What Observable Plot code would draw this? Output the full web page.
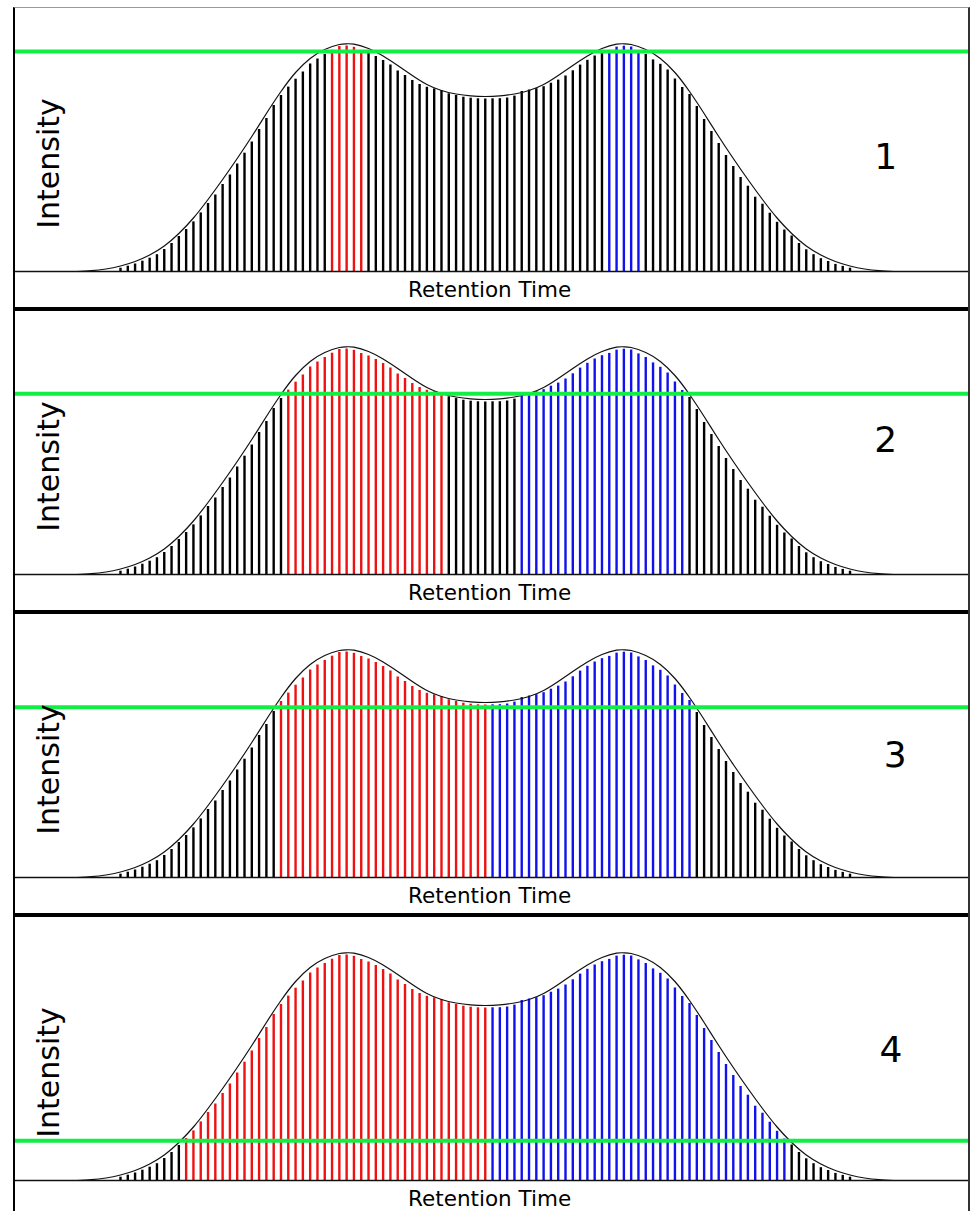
<!DOCTYPE html>
<html>
<head>
<meta charset="utf-8">
<script src="https://cdn.jsdelivr.net/npm/d3@7"></script>
<script src="https://cdn.jsdelivr.net/npm/@observablehq/plot@0.6"></script>
<style>
  html, body { margin: 0; padding: 0; background: #fff; width: 971px; height: 1211px; overflow: hidden; }
  #wrap { position: absolute; left: 13px; top: 7px; width: 953px;
          border-top: 1px solid #999; border-left: 2px solid #000; border-right: 2px solid #333; }
  .panel { height: 299px; border-bottom: 4px solid #000; }
  .panel svg { display: block; }
</style>
</head>
<body>
<div id="wrap"></div>
<script>
// ---- data ----
const xLabel = "Retention Time";
const yLabel = "Intensity";
const panelLabels = ["1", "2", "3", "4"];

// scan index of each centroid stick (retention-time order)
const scanIndex = [
  0,1,2,3,4,5,6,7,8,9,10,11,12,13,14,15,16,17,18,19,20,
  21,22,23,24,25,26,27,28,29,30,31,32,33,34,35,36,37,38,39,40,
  41,42,43,44,45,46,47,48,49,50,51,52,53,54,55,56,57,58,59,60,
  61,62,63,64,65,66,67,68,69,70,71,72,73,74,75,76,77,78,79,80,
  81,82,83,84,85,86,87,88,89,90,91,92,93,94,95,96,97,98,99,100
];
// stick intensities
const stickIntensity = [
  3.3,5.3,7.5,10.3,13.3,16.8,22,28,35,42,49.6,
  58.6,68,76.5,87,96.5,107.5,118.3,129.5,142,153,
  166,176,184.4,192.3,199.5,207.5,212.5,217,221.3,225,
  225.5,224.2,221,218.5,215,211,206.5,200.5,196,191,
  187,184.2,182.6,181,177.7,176,174.3,173.3,172.7,172.5,
  172.7,172.8,173.5,175.4,180,181.5,182.8,184.8,188.3,191.4,
  195.5,200.7,206.4,211.2,215.5,218.8,221.1,224.4,225.3,224.5,
  220.6,217,211.6,207.2,201.5,192.5,184,177,165,152,
  140,128,116,105,94,85.3,74.3,67.3,58.3,49.2,
  41.5,35.5,28,21.7,16.8,12.8,10,7.1,5.1,3.3
];
// profile (envelope) curve samples
const curveIndex = [
  -6,-4,-2,0,2,4,6,8,10,12,14,16,18,20,22,24,26,28,30,31,32,34,36,38,40,42,44,46,48,50,
  52,54,56,58,60,62,64,66,68,69,70,72,74,76,78,80,82,84,86,88,90,92,94,96,98,100,102,104,106
];
const curveIntensity = [
  0,0.8,2.5,5.5,10,16.5,25.5,38,53.5,72,92,113,135,158,180,199,213,222,227,227.7,227.3,223,215.5,206,196,187,181,177.5,175.6,175,
  175.6,177.5,181,187,196,206,215.5,223,227.3,227.7,227,222,213,199,180,158,135,113,92,72,53.5,38,25.5,16.5,10,5.5,2.5,0.8,0
];
// per-panel threshold (green line) and the stick ranges assigned to each peak
const thresholds = [220, 180.7, 170.3, 39.7];
const redRanges  = [[29, 33], [23, 44], [22, 50], [9, 50]];
const blueRanges = [[67, 71], [55, 77], [51, 78], [51, 91]];

// ---- layout / style (not data) ----
const labelPos = [
  {x: 104.9, y: 114},
  {x: 104.9, y: 134},
  {x: 106.2, y: 122},
  {x: 105.6, y: 130}
];
const GREEN = "#11ee44";

const sticks = scanIndex.map((i, k) => ({i, h: stickIntensity[k]}));
const curve = curveIndex.map((i, k) => ({i, h: curveIntensity[k]}));

const wrap = document.getElementById("wrap");

panelLabels.forEach((lab, p) => {
  const [r0, r1] = redRanges[p];
  const [b0, b1] = blueRanges[p];
  const data = sticks.map(d => ({...d,
    cls: (d.i >= r0 && d.i <= r1) ? "peak A" : (d.i >= b0 && d.i <= b1) ? "peak B" : "other"}));
  const chart = Plot.plot({
    width: 953,
    height: 299,
    marginLeft: 0, marginRight: 0, marginTop: 0, marginBottom: 36,
    x: {domain: [-14.39, 116.24], axis: null},
    y: {domain: [0, 263], axis: null},
    color: {type: "ordinal", domain: ["other", "peak A", "peak B"], range: ["#000000", "#ee1111", "#1111ee"]},
    style: {background: "white", fontFamily: "'DejaVu Sans', sans-serif", overflow: "visible"},
    marks: [
      Plot.ruleX(data, {x: "i", y1: 0, y2: "h", stroke: "cls", strokeWidth: 2.4}),
      Plot.line(curve, {x: "i", y: "h", curve: "natural", stroke: "#111", strokeWidth: 1.2}),
      Plot.ruleY([0], {stroke: "#111", strokeWidth: 1.7}),
      Plot.ruleY([thresholds[p]], {stroke: GREEN, strokeWidth: 4}),
      Plot.text([yLabel], {x: -9.8, y: 108, rotate: -90, fontSize: 30, fill: "#000"}),
      Plot.text([xLabel], {x: 50.6, y: -19, fontSize: 21.5, fill: "#000"}),
      Plot.text([lab], {x: labelPos[p].x, y: labelPos[p].y, fontSize: 36, fill: "#000"})
    ]
  });
  const div = document.createElement("div");
  div.className = "panel";
  div.appendChild(chart);
  wrap.appendChild(div);
});
</script>
</body>
</html>
